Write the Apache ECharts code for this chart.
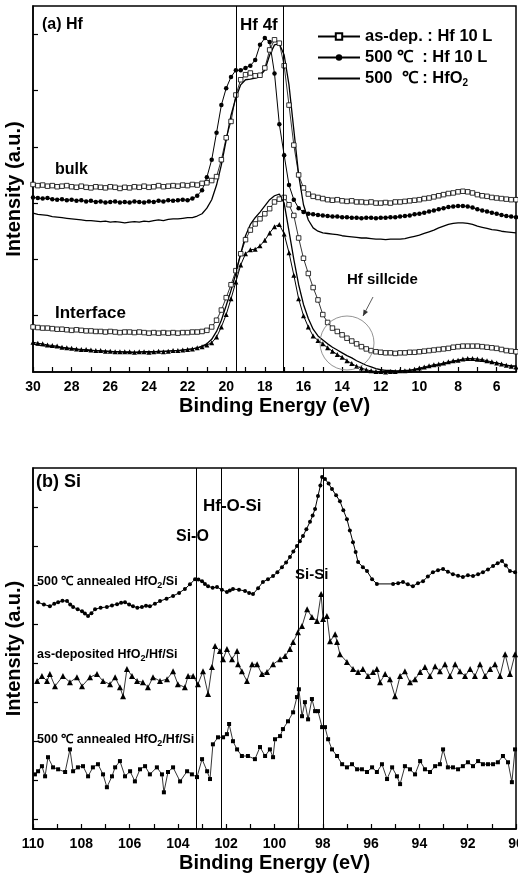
<!DOCTYPE html>
<html>
<head>
<meta charset="utf-8">
<script src="https://cdn.jsdelivr.net/npm/echarts@6/dist/echarts.min.js"></script>
<style>html,body{margin:0;padding:0;background:#fff}#main{width:518px;height:884px}</style>
</head>
<body>
<div id="main"></div>
<script>
// (a) Hf 4f valence region, binding energy grid (eV)
var energyHf = [
  30,29.75,29.5,29.25,29,28.75,28.5,28.25,28,27.75,
  27.5,27.25,27,26.75,26.5,26.25,26,25.75,25.5,25.25,
  25,24.75,24.5,24.25,24,23.75,23.5,23.25,23,22.75,
  22.5,22.25,22,21.75,21.5,21.25,21,20.75,20.5,20.25,
  20,19.75,19.5,19.25,19,18.75,18.5,18.25,18,17.75,
  17.5,17.25,17,16.75,16.5,16.25,16,15.75,15.5,15.25,
  15,14.75,14.5,14.25,14,13.75,13.5,13.25,13,12.75,
  12.5,12.25,12,11.75,11.5,11.25,11,10.75,10.5,10.25,
  10,9.75,9.5,9.25,9,8.75,8.5,8.25,8,7.75,
  7.5,7.25,7,6.75,6.5,6.25,6,5.75,5.5,5.25,
  5];
var bulkAsDep = [
  3.33,3.31,3.32,3.30,3.31,3.29,3.30,3.31,3.29,3.28,
  3.30,3.28,3.27,3.29,3.28,3.27,3.29,3.28,3.26,3.28,
  3.27,3.29,3.28,3.30,3.28,3.29,3.31,3.29,3.30,3.31,
  3.30,3.32,3.31,3.33,3.32,3.35,3.36,3.40,3.47,3.77,
  4.16,4.45,4.92,5.19,5.28,5.31,5.26,5.27,5.40,5.72,
  5.90,5.84,5.44,4.74,4.03,3.50,3.27,3.16,3.12,3.10,
  3.08,3.06,3.05,3.06,3.04,3.03,3.04,3.02,3.02,3.01,
  3.02,3.00,3.00,3.01,3.00,3.02,3.02,3.03,3.04,3.05,
  3.06,3.08,3.09,3.11,3.13,3.15,3.17,3.18,3.20,3.21,
  3.20,3.18,3.15,3.13,3.12,3.10,3.09,3.08,3.07,3.06,
  3.06];
var bulk500 = [
  3.10,3.09,3.08,3.09,3.07,3.06,3.07,3.05,3.06,3.04,
  3.05,3.03,3.04,3.02,3.03,3.01,3.02,3.03,3.01,3.02,
  3.01,3.03,3.02,3.01,3.03,3.02,3.04,3.03,3.05,3.04,
  3.05,3.06,3.05,3.08,3.13,3.23,3.46,3.77,4.25,4.74,
  5.04,5.24,5.36,5.36,5.40,5.44,5.54,5.81,5.93,5.86,
  5.30,4.40,3.85,3.32,3.06,2.91,2.84,2.81,2.80,2.79,
  2.78,2.77,2.76,2.76,2.75,2.75,2.74,2.74,2.73,2.74,
  2.74,2.73,2.74,2.74,2.75,2.75,2.76,2.77,2.78,2.80,
  2.81,2.83,2.85,2.87,2.89,2.91,2.93,2.94,2.95,2.95,
  2.94,2.92,2.89,2.87,2.85,2.83,2.81,2.79,2.77,2.76,
  2.75];
var bulkOxide = [
  2.82,2.80,2.79,2.78,2.76,2.75,2.74,2.73,2.72,2.71,
  2.70,2.69,2.69,2.68,2.67,2.68,2.66,2.67,2.66,2.65,
  2.66,2.67,2.66,2.68,2.67,2.69,2.70,2.69,2.71,2.72,
  2.72,2.73,2.74,2.74,2.77,2.81,2.91,3.06,3.32,3.68,
  4.12,4.56,4.87,5.10,5.19,5.20,5.22,5.26,5.36,5.63,
  5.81,5.83,5.63,5.10,4.30,3.50,2.97,2.70,2.56,2.50,
  2.47,2.46,2.45,2.44,2.42,2.41,2.40,2.39,2.38,2.38,
  2.37,2.36,2.36,2.35,2.36,2.36,2.36,2.37,2.39,2.41,
  2.43,2.46,2.49,2.52,2.56,2.59,2.62,2.64,2.65,2.65,
  2.64,2.62,2.59,2.57,2.55,2.53,2.52,2.50,2.49,2.48,
  2.47];
var ifAsDep = [
  0.80,0.79,0.78,0.78,0.77,0.76,0.76,0.75,0.74,0.75,
  0.74,0.73,0.73,0.72,0.72,0.71,0.72,0.71,0.70,0.71,
  0.71,0.70,0.71,0.70,0.69,0.70,0.69,0.70,0.69,0.70,
  0.69,0.70,0.70,0.71,0.71,0.72,0.74,0.80,0.92,1.10,
  1.32,1.55,1.80,2.10,2.35,2.52,2.63,2.72,2.81,2.90,
  3.02,3.07,3.10,2.97,2.78,2.38,2.02,1.75,1.50,1.28,
  1.02,0.88,0.78,0.72,0.66,0.60,0.55,0.50,0.45,0.41,
  0.38,0.36,0.35,0.34,0.34,0.33,0.34,0.34,0.35,0.35,
  0.36,0.37,0.38,0.39,0.40,0.41,0.42,0.44,0.45,0.46,
  0.46,0.46,0.46,0.45,0.44,0.43,0.42,0.40,0.38,0.37,
  0.36];
var if500 = [
  0.53,0.51,0.50,0.48,0.47,0.46,0.44,0.43,0.42,0.41,
  0.40,0.40,0.39,0.38,0.38,0.37,0.37,0.36,0.36,0.36,
  0.36,0.35,0.36,0.36,0.35,0.36,0.37,0.36,0.37,0.38,
  0.38,0.39,0.40,0.41,0.43,0.45,0.48,0.52,0.62,0.80,
  1.02,1.30,1.60,1.90,2.10,2.17,2.18,2.24,2.34,2.47,
  2.58,2.62,2.45,2.12,1.72,1.30,1.00,0.80,0.64,0.56,
  0.50,0.43,0.37,0.31,0.26,0.20,0.15,0.10,0.07,0.04,
  0.02,0.01,0.01,0.00,0.01,0.01,0.02,0.02,0.03,0.05,
  0.07,0.09,0.11,0.13,0.14,0.16,0.18,0.20,0.21,0.23,
  0.24,0.24,0.23,0.22,0.20,0.18,0.16,0.14,0.12,0.10,
  0.09];
var ifOxide = [
  0.50,0.48,0.47,0.46,0.45,0.44,0.43,0.42,0.41,0.40,
  0.39,0.39,0.38,0.38,0.37,0.37,0.36,0.36,0.36,0.35,
  0.35,0.35,0.35,0.36,0.36,0.36,0.36,0.37,0.37,0.38,
  0.38,0.39,0.40,0.41,0.43,0.46,0.50,0.58,0.72,0.92,
  1.18,1.45,1.75,2.10,2.42,2.62,2.74,2.84,2.95,3.06,
  3.13,3.16,3.00,2.50,2.00,1.55,1.20,0.95,0.76,0.64,
  0.57,0.50,0.44,0.39,0.34,0.29,0.25,0.20,0.16,0.12,
  0.09,0.06,0.04,0.03,0.03,0.02,0.02,0.03,0.03,0.04,
  0.05,0.07,0.09,0.11,0.12,0.14,0.16,0.18,0.20,0.21,
  0.21,0.21,0.20,0.19,0.18,0.17,0.16,0.14,0.12,0.11,
  0.11];
var hfLines = [19.5, 17.05];
var hfLabels = [30,28,26,24,22,20,18,16,14,12,10,8,6];

// (b) Si 2p region: [binding energy, intensity]
var siAnnealedOnSi = [
  [109.79,5.56],[109.55,5.50],[109.30,5.46],[109.12,5.52],[108.96,5.56],[108.78,5.60],[108.59,5.59],[108.46,5.50],
  [108.34,5.44],[108.15,5.38],[107.97,5.33],[107.85,5.27],[107.72,5.21],[107.58,5.28],[107.43,5.38],[107.20,5.42],
  [106.94,5.44],[106.73,5.48],[106.52,5.51],[106.35,5.55],[106.19,5.56],[106.02,5.50],[105.86,5.46],[105.68,5.42],
  [105.49,5.44],[105.32,5.47],[105.16,5.46],[104.95,5.52],[104.74,5.59],[104.47,5.65],[104.20,5.72],[103.95,5.80],
  [103.71,5.90],[103.50,6.02],[103.29,6.15],[103.15,6.14],[103.00,6.10],[102.88,6.03],[102.75,5.97],[102.56,5.93],
  [102.38,5.95],[102.18,5.88],[101.97,5.82],[101.85,5.86],[101.72,5.90],[101.47,5.88],[101.22,5.85],[101.05,5.80],
  [100.89,5.77],[100.68,5.92],[100.48,6.08],[100.27,6.15],[100.06,6.23],[99.88,6.33],[99.69,6.46],[99.52,6.58],
  [99.36,6.72],[99.22,6.86],[99.07,7.00],[98.95,7.12],[98.82,7.26],[98.68,7.43],[98.53,7.62],[98.42,7.78],
  [98.32,7.95],[98.20,8.28],[98.10,8.55],[98.03,8.77],[97.91,8.72],[97.76,8.60],[97.62,8.46],[97.45,8.30],
  [97.29,8.15],[97.15,7.92],[97.00,7.69],[96.88,7.40],[96.75,7.10],[96.64,6.85],[96.54,6.59],[96.34,6.46],
  [96.17,6.36],[95.96,6.15],[95.76,6.03],[95.09,6.03],[94.88,6.05],[94.68,6.08],[94.48,6.02],[94.27,5.97],
  [94.06,6.05],[93.85,6.10],[93.65,6.22],[93.44,6.33],[93.23,6.38],[93.02,6.41],[92.82,6.34],[92.61,6.28],
  [92.40,6.24],[92.20,6.21],[91.99,6.25],[91.78,6.23],[91.57,6.28],[91.37,6.33],[91.16,6.40],[90.95,6.49],
  [90.76,6.56],[90.58,6.62],[90.42,6.50],[90.25,6.36],[90.04,6.33]];
var siAsDeposited = [
  [109.83,3.54],[109.63,3.67],[109.42,3.54],[109.30,3.72],[109.09,3.41],[108.76,3.67],[108.47,3.51],[108.18,3.64],
  [107.97,3.41],[107.64,3.64],[107.35,3.72],[107.10,3.54],[106.81,3.46],[106.60,3.64],[106.40,3.38],[106.27,3.15],
  [106.11,3.85],[105.90,3.67],[105.69,3.54],[105.45,3.51],[105.24,3.38],[105.03,3.64],[104.74,3.54],[104.45,3.59],
  [104.20,3.79],[104.00,3.46],[103.71,3.38],[103.58,3.67],[103.37,3.67],[103.17,3.46],[102.96,3.79],[102.75,3.21],
  [102.59,3.90],[102.46,4.44],[102.26,4.31],[102.13,4.10],[101.97,4.36],[101.76,4.10],[101.55,4.31],[101.51,3.97],
  [101.35,3.79],[101.14,3.54],[100.93,3.97],[100.72,3.97],[100.52,3.72],[100.31,3.77],[100.06,3.97],[99.77,4.10],
  [99.56,4.18],[99.36,4.36],[99.23,4.54],[99.03,4.79],[98.86,4.95],[98.65,5.38],[98.45,5.18],[98.24,5.08],
  [98.07,5.77],[97.99,5.13],[97.83,5.21],[97.70,4.56],[97.49,4.74],[97.41,4.54],[97.29,4.23],[97.00,4.03],
  [96.75,3.85],[96.54,3.77],[96.34,3.85],[96.13,3.67],[95.92,3.77],[95.76,3.85],[95.63,3.51],[95.42,3.72],
  [95.22,3.59],[95.01,3.15],[94.80,3.67],[94.60,3.79],[94.39,3.51],[94.18,3.59],[93.97,3.77],[93.77,3.90],
  [93.56,3.67],[93.35,3.92],[93.15,3.79],[92.94,3.97],[92.73,3.67],[92.52,3.97],[92.32,3.79],[92.11,3.67],
  [91.90,3.85],[91.70,3.67],[91.49,3.97],[91.28,3.67],[91.07,3.85],[90.87,3.97],[90.66,3.67],[90.45,4.23],
  [90.25,3.72],[90.04,4.23]];
var siAnnealedOnHf = [
  [109.92,1.15],[109.79,1.23],[109.63,1.36],[109.50,1.10],[109.38,1.59],[109.17,1.33],[108.96,1.28],[108.67,1.21],
  [108.47,1.79],[108.34,1.23],[108.14,1.33],[107.93,1.36],[107.72,1.10],[107.52,1.33],[107.31,1.41],[107.10,1.15],
  [106.94,0.82],[106.73,1.10],[106.60,1.33],[106.40,1.49],[106.19,1.10],[105.98,1.23],[105.78,0.97],[105.57,1.28],
  [105.36,1.36],[105.16,1.15],[104.87,1.33],[104.66,1.15],[104.58,0.69],[104.41,1.21],[104.20,1.33],[103.91,0.97],
  [103.62,1.23],[103.42,1.15],[103.21,1.08],[103.00,1.54],[102.79,1.23],[102.67,1.03],[102.55,1.92],[102.34,2.10],
  [102.13,2.10],[101.97,2.18],[101.88,2.44],[101.72,2.00],[101.55,1.79],[101.35,1.62],[101.10,1.62],[100.81,1.54],
  [100.60,1.85],[100.39,1.62],[100.19,1.79],[100.06,1.59],[99.98,2.05],[99.77,2.13],[99.65,2.31],[99.44,2.51],
  [99.23,2.74],[99.07,3.13],[98.99,3.33],[98.86,2.64],[98.74,3.00],[98.61,2.56],[98.45,3.08],[98.32,2.77],
  [98.20,2.77],[98.03,2.36],[97.91,2.36],[97.78,2.05],[97.62,1.79],[97.41,1.62],[97.20,1.41],[97.00,1.33],
  [96.79,1.41],[96.58,1.28],[96.38,1.28],[96.17,1.21],[95.96,1.33],[95.76,1.21],[95.55,1.41],[95.34,1.03],
  [95.13,1.33],[94.93,1.10],[94.80,0.90],[94.60,1.36],[94.39,1.28],[94.18,1.15],[93.97,1.49],[93.77,1.28],
  [93.56,1.21],[93.35,1.36],[93.15,1.41],[93.02,1.79],[92.82,1.33],[92.61,1.33],[92.40,1.28],[92.20,1.36],
  [91.99,1.46],[91.78,1.36],[91.57,1.49],[91.37,1.41],[91.16,1.41],[90.95,1.41],[90.75,1.46],[90.54,1.62],
  [90.33,1.46],[90.17,0.95],[90.04,1.79]];
var siLines = [103.25, 102.2, 99.0, 98.0];
var siLabels = [110,108,106,104,102,100,98,96,94,92,90];

var FONT = 'Liberation Sans, Arial, sans-serif';
var nAsDep = 'as-dep. : Hf 10 L';
var n500 = '500 \u2103  : Hf 10 L';
var nOx = '500  \u2103 : HfO2';

function pairs(xs, ys) {
    return xs.map(function (x, i) { return [x, ys[i]]; });
}
function xAxisOf(gi, min, max, labels) {
    return {
        type: 'value', gridIndex: gi, inverse: true, min: min, max: max, interval: 1,
        name: 'Binding Energy (eV)', nameLocation: 'middle', nameGap: 24,
        nameTextStyle: {fontSize: 20, fontWeight: 'bold', color: '#000', fontFamily: FONT},
        axisLine: {show: true, onZero: false, lineStyle: {color: '#000', width: 1.5}},
        axisTick: {show: true, inside: true, length: 5, lineStyle: {color: '#000', width: 1.2}},
        axisLabel: {customValues: labels, fontSize: 14, fontWeight: 'bold', color: '#000', margin: 8, fontFamily: FONT},
        splitLine: {show: false}
    };
}
function yAxisOf(gi, min, max, ticks) {
    return {
        type: 'value', gridIndex: gi, min: min, max: max,
        name: 'Intensity (a.u.)', nameLocation: 'middle', nameGap: 9,
        nameTextStyle: {fontSize: 20, fontWeight: 'bold', color: '#000', fontFamily: FONT},
        axisLine: {show: true, onZero: false, lineStyle: {color: '#000', width: 1.5}},
        axisTick: {show: true, inside: true, length: 5, customValues: ticks, lineStyle: {color: '#000', width: 1.2}},
        axisLabel: {show: false},
        splitLine: {show: false}
    };
}
function marked(name, data, gi, symbol, size, filled, lw) {
    return {
        name: name, type: 'line', xAxisIndex: gi, yAxisIndex: gi, data: data,
        symbol: symbol, symbolSize: size, showSymbol: symbol !== 'none',
        itemStyle: filled ? {color: '#000'} : {color: '#fff', borderColor: '#000', borderWidth: 0.8},
        lineStyle: {color: '#000', width: lw}
    };
}
function vlines(values) {
    return {
        silent: true, symbol: ['none', 'none'], label: {show: false}, animation: false,
        lineStyle: {color: '#000', width: 1, type: 'solid'},
        emphasis: {disabled: true},
        data: values.map(function (v) { return {xAxis: v}; })
    };
}
function txt(x, y, text, size, extra) {
    var st = {text: text, fontSize: size, fontWeight: 'bold', fontFamily: FONT, fill: '#000',
              textAlign: 'left', textVerticalAlign: 'middle', align: 'left', verticalAlign: 'middle'};
    if (extra) st.rich = extra;
    return {type: 'text', x: x, y: y, z: 100, style: st};
}
var sub = {s: {fontSize: 9, fontWeight: 'bold', fontFamily: FONT, padding: [8, 0, 0, 0]}};
var legendSub = {s: {fontSize: 10, fontWeight: 'bold', fontFamily: FONT, padding: [10, 0, 0, 0]}};

var s1 = marked(nAsDep, pairs(energyHf, bulkAsDep), 0, 'rect', 4.5, false, 0.8);
s1.markLine = vlines(hfLines);
var s4 = marked('b', siAnnealedOnSi, 1, 'circle', 4, true, 1);
s4.markLine = vlines(siLines);

var chart = echarts.init(document.getElementById('main'));
chart.setOption({
    animation: false,
    textStyle: {fontFamily: FONT},
    grid: [
        {left: 33, right: 2, top: 6, height: 366, show: true, borderColor: '#000', borderWidth: 1.5, outerBoundsMode: 'none', containLabel: false},
        {left: 33, right: 2, top: 468, height: 361, show: true, borderColor: '#000', borderWidth: 1.5, outerBoundsMode: 'none', containLabel: false}
    ],
    xAxis: [xAxisOf(0, 5, 30, hfLabels), xAxisOf(1, 90, 110, siLabels)],
    yAxis: [yAxisOf(0, 0, 6.5, [1, 2, 3, 4, 5, 6]), yAxisOf(1, -0.25, 9, [0, 1, 2, 3, 4, 5, 6, 7, 8])],
    legend: {
        data: [nAsDep, n500, {name: nOx, itemStyle: {opacity: 0}}], orient: 'vertical', left: 312, top: 23, itemGap: 4,
        itemWidth: 42, itemHeight: 8, selectedMode: false,
        formatter: function (n) { return n === nOx ? '500  \u2103 : HfO{s|2}' : n; },
        textStyle: {fontSize: 16.5, fontWeight: 'bold', color: '#000', fontFamily: FONT, rich: legendSub}
    },
    series: [
        s1,
        marked(n500, pairs(energyHf, bulk500), 0, 'circle', 4.5, true, 1),
        marked(nOx, pairs(energyHf, bulkOxide), 0, 'none', 0, true, 1.3),
        marked(nAsDep, pairs(energyHf, ifAsDep), 0, 'rect', 4.5, false, 0.8),
        marked(n500, pairs(energyHf, if500), 0, 'triangle', 5, true, 1),
        marked(nOx, pairs(energyHf, ifOxide), 0, 'none', 0, true, 1.3),
        s4,
        marked('c', siAsDeposited, 1, 'triangle', 6, true, 0.8),
        marked('d', siAnnealedOnHf, 1, 'rect', 4, true, 0.8)
    ],
    graphic: [
        txt(42, 25, '(a) Hf', 16),
        txt(240, 25, 'Hf 4f', 17),
        txt(55, 170, 'bulk', 16),
        txt(55, 313, 'Interface', 17),
        txt(347, 280, 'Hf sillcide', 15),
        {type: 'circle', z: 100, shape: {cx: 347, cy: 343, r: 27}, style: {fill: 'none', stroke: '#777', lineWidth: 0.8}},
        {type: 'line', z: 100, shape: {x1: 373, y1: 297, x2: 363, y2: 316}, style: {stroke: '#333', lineWidth: 0.8}},
        {type: 'polygon', z: 100, shape: {points: [[363, 316], [368, 311.9], [363.6, 309.5]]}, style: {fill: '#333'}},
        txt(36, 482, '(b) Si', 18),
        txt(203, 506, 'Hf-O-Si', 17),
        txt(176, 537, 'Si-O', 16),
        txt(295, 575, 'Si-Si', 15),
        txt(37, 582, '500 \u2103 annealed HfO{s|2}/Si', 12.5, sub),
        txt(37, 655, 'as-deposited HfO{s|2}/Hf/Si', 12.5, sub),
        txt(37, 740, '500 \u2103 annealed HfO{s|2}/Hf/Si', 12.5, sub)
    ]
});
</script>
</body>
</html>
